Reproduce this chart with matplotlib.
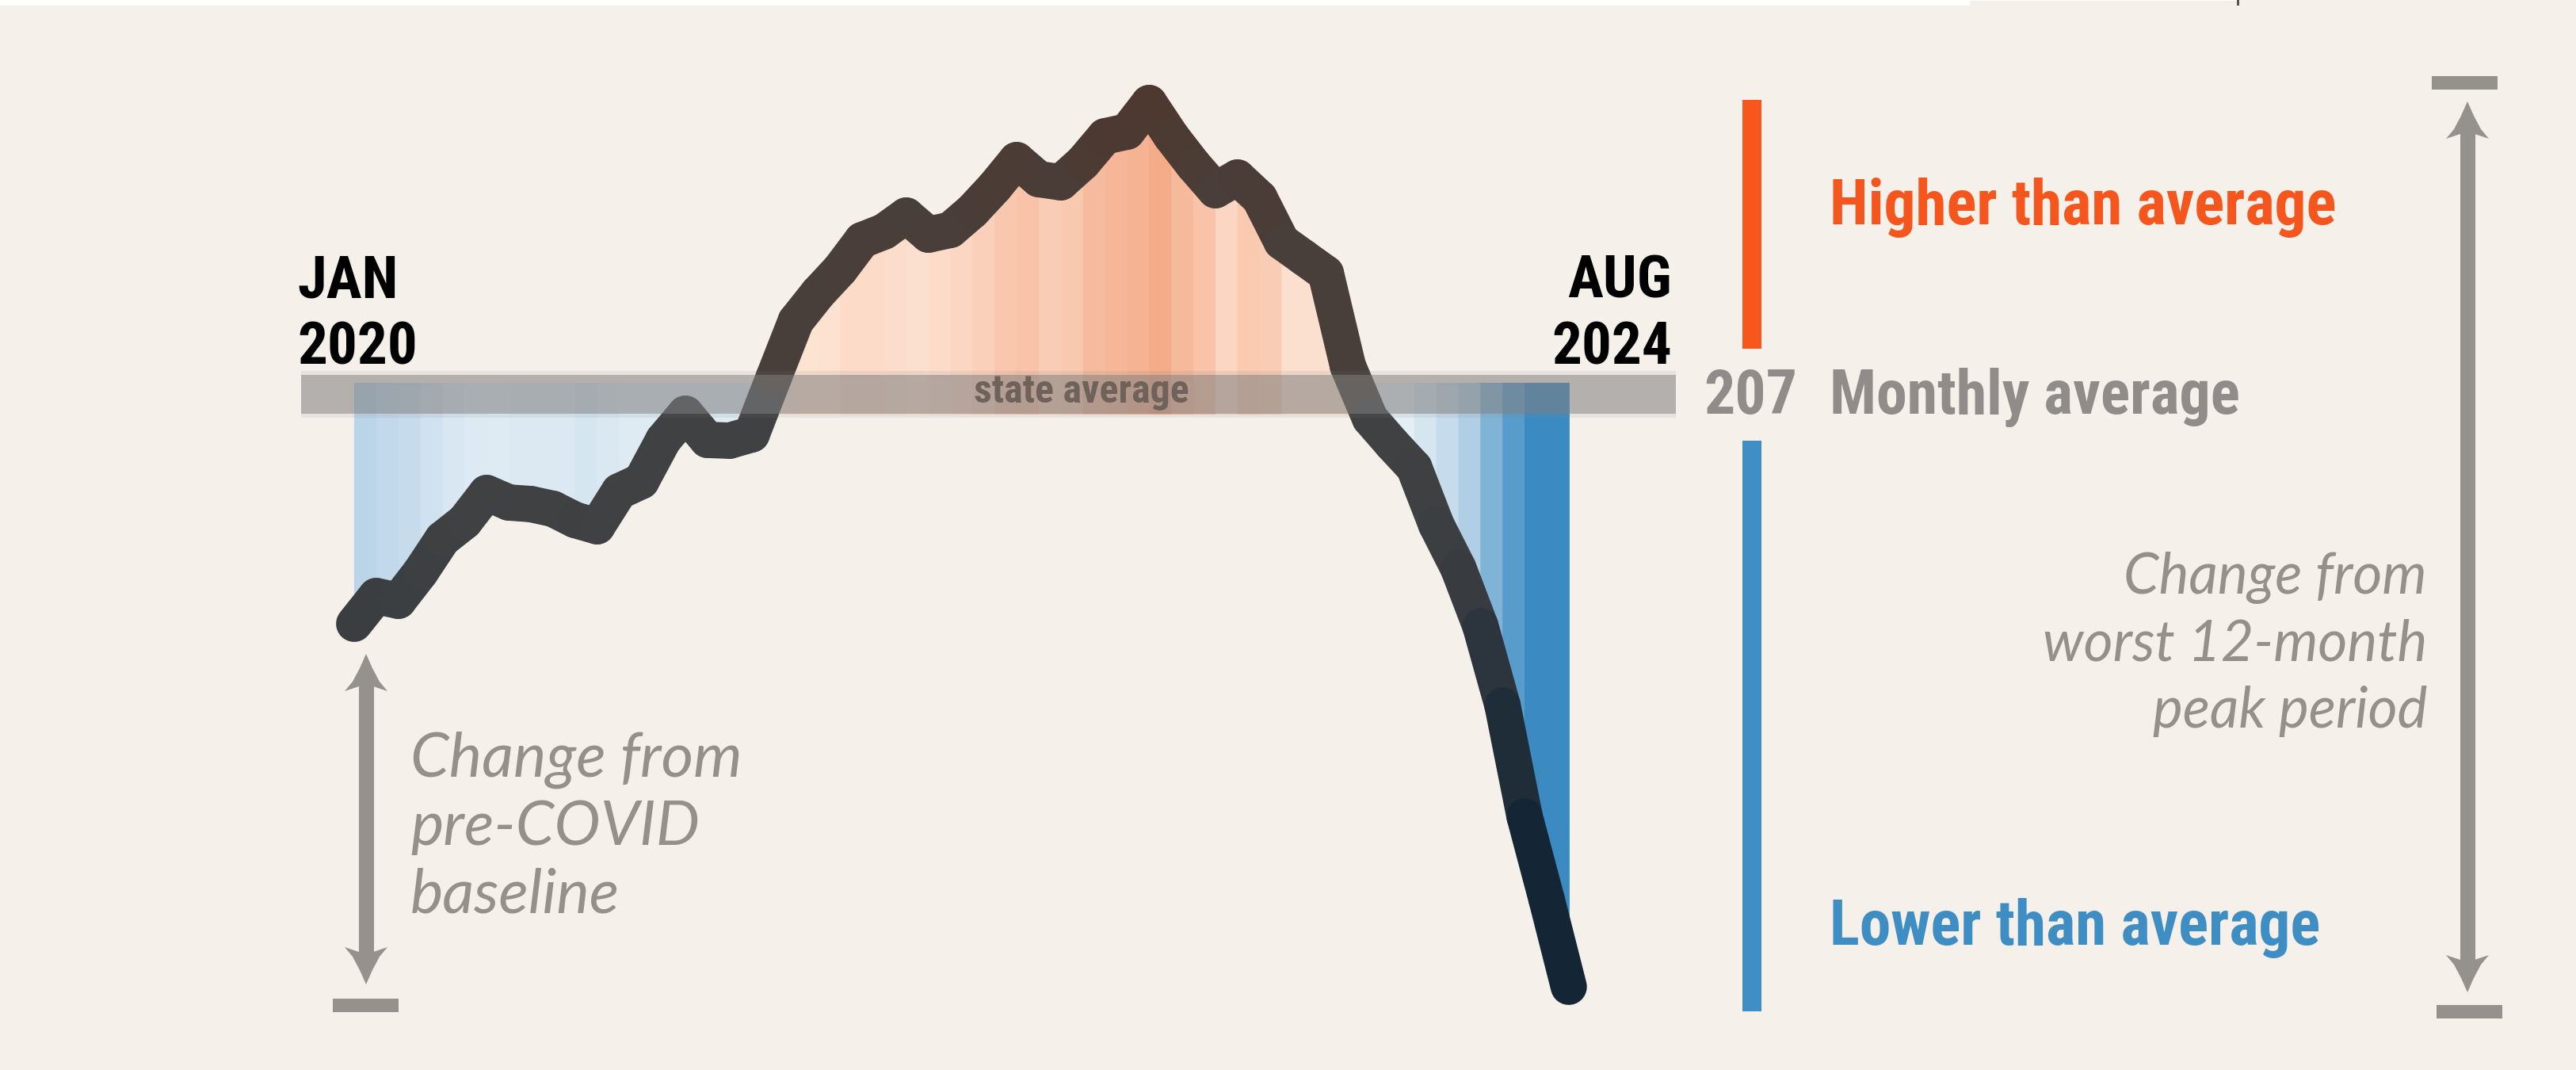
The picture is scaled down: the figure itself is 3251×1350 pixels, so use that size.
import numpy as np
import matplotlib
matplotlib.use("Agg")
import matplotlib.pyplot as plt
from matplotlib import font_manager
from matplotlib.collections import LineCollection
from matplotlib.patches import Rectangle, Polygon
from matplotlib.lines import Line2D

# Monthly values, Jan 2020 .. Aug 2024
values = [178.0, 181.5, 180.9, 184.5, 188.7, 190.9, 194.5, 193.3, 193.1, 192.5,
          191.1, 190.3, 194.7, 196.0, 201.2, 204.5, 201.2, 201.1, 201.9, 209.1,
          216.2, 219.7, 222.7, 226.4, 227.5, 229.5, 227.1, 227.7, 230.1, 233.1,
          236.5, 234.1, 233.7, 236.2, 239.5, 240.1, 243.7, 239.5, 235.9, 232.7,
          234.3, 231.7, 226.2, 224.2, 222.2, 210.5, 203.9, 200.7, 197.7, 190.5,
          185.0, 177.7, 167.7, 153.7, 143.2, 132.2]
# stripe strength for each month (0 = faint, 1 = strongest)
shade = [0.25, 0.21, 0.18, 0.12, 0.07, 0.04, 0.03, 0.05, 0.05, 0.05,
         0.08, 0.06, 0.03, 0.03, 0.03, 0.03, 0.03, 0.03, 0.03, 0.00,
         0.02, 0.03, 0.12, 0.12, 0.10, 0.06, 0.12, 0.19, 0.29, 0.43,
         0.49, 0.34, 0.41, 0.60, 0.68, 0.72, 0.84, 0.63, 0.49, 0.20,
         0.40, 0.34, 0.06, 0.06, 0.05, 0.00, 0.00, 0.00, 0.08, 0.18,
         0.31, 0.59, 0.83, 1.00, 1.00, 1.00]
state_avg = 207
start_label = ["JAN", "2020"]
end_label = ["AUG", "2024"]
legend_labels = ["Higher than average", "Monthly average", "Lower than average"]
left_note = ["Change from", "pre-COVID", "baseline"]
right_note = ["Change from", "worst 12-month", "peak period"]

BG = "#f6f0eb"
BLUE_LIGHT, BLUE_DARK = (228, 238, 245), (59, 139, 194)
OR_LIGHT, OR_DARK = (253, 228, 212), (242, 160, 122)
LINE_BASE, BROWN, NAVY = (68, 68, 68), (78, 56, 46), (20, 38, 54)
GREY_TXT = "#8f8c89"
NOTE = "#959089"
ARROW = "#95918c"


def mix(a, b, t):
    t = max(0.0, min(1.0, t))
    return tuple((a[j] + (b[j] - a[j]) * t) / 255 for j in range(3))


W, H = 3251, 1350
fig = plt.figure(figsize=(W / 100, H / 100), dpi=100, facecolor=BG)


def fx(px):
    return px / W


def fy(py):
    return 1 - py / H


# fonts: pick whatever is installed
installed = {f.name for f in font_manager.fontManager.ttflist}


def pick(names):
    for n in names:
        if n in installed:
            return n
    return "DejaVu Sans"


bold_family = pick(["Liberation Sans Narrow", "Roboto Condensed", "DejaVu Sans"])
bold_kw = dict(family=bold_family, weight="bold")
if bold_family == "DejaVu Sans":
    bold_kw["stretch"] = "condensed"
ital_family = pick(["Lato", "Open Sans", "DejaVu Sans"])
ital_kw = dict(family=ital_family, style="italic")

renderer = fig.canvas.get_renderer()


def fit(texts, width, cap):
    w = max(t.get_window_extent(renderer).width for t in texts)
    size = min(texts[0].get_fontsize() * width / w, cap)
    for t in texts:
        t.set_fontsize(size)


# ---- main chart ----
ax = fig.add_axes([fx(380), fy(1300), fx(2115) - fx(380), fy(60) - fy(1300)])
ax.set_xlim(-2.404, 59.85)
ax.set_ylim(126.7, 250.7)
ax.axis("off")

x = np.arange(len(values))
v = np.array(values)

blue_top = state_avg + 1.4
orange_base = state_avg - 2.5
for i in range(len(v) - 1):
    xs = x[i:i + 2]
    ys = v[i:i + 2]
    cb = mix(BLUE_LIGHT, BLUE_DARK, shade[i])
    co = mix(OR_LIGHT, OR_DARK, shade[i])
    ax.fill_between(xs, ys, blue_top, where=ys < blue_top, interpolate=True,
                    facecolor=cb, edgecolor=cb, lw=0.8, zorder=1)
    ax.fill_between(xs, ys, orange_base, where=ys > orange_base, interpolate=True,
                    facecolor=co, edgecolor=co, lw=0.8, zorder=1)

pts = np.column_stack([x, v])
segs = np.stack([pts[:-1], pts[1:]], axis=1)
line_colors = []
for i in range(len(v) - 1):
    mid = (v[i] + v[i + 1]) / 2
    if mid > state_avg:
        line_colors.append(mix(LINE_BASE, BROWN, 0.4 + 0.6 * shade[i]))
    else:
        line_colors.append(mix(LINE_BASE, NAVY, 0.1 + 0.9 * shade[i] ** 1.5))
lc = LineCollection(segs, colors=line_colors, linewidths=33,
                    capstyle="round", joinstyle="round", zorder=2)
ax.add_collection(lc)

# state average band
ax.axhspan(state_avg - 3.0, state_avg + 2.9, color="#808080", alpha=0.12, lw=0, zorder=3)
ax.axhspan(state_avg - 2.5, state_avg + 2.4, color="#808080", alpha=0.5, lw=0, zorder=3)
t_band = ax.text(0.5677, state_avg - 1.1, "state average", transform=ax.get_yaxis_transform(),
                 ha="center", va="baseline", color="#6e625b", fontsize=30, zorder=4, **bold_kw)
fit([t_band], 333, 36)

# ---- start / end labels ----
lab = []
lab.append(fig.text(fx(375), fy(375), start_label[0], ha="left", va="baseline", color="black", fontsize=50, **bold_kw))
lab.append(fig.text(fx(375), fy(459), start_label[1], ha="left", va="baseline", color="black", fontsize=50, **bold_kw))
lab.append(fig.text(fx(2110), fy(375), end_label[0], ha="right", va="baseline", color="black", fontsize=50, **bold_kw))
lab.append(fig.text(fx(2110), fy(459), end_label[1], ha="right", va="baseline", color="black", fontsize=50, **bold_kw))
fit([lab[1]], 170, 54)
for t in lab:
    t.set_fontsize(lab[1].get_fontsize())

# ---- legend on the right ----
def rect(x0, y0, x1, y1, color):
    fig.add_artist(Rectangle((fx(x0), fy(y1)), fx(x1) - fx(x0), fy(y0) - fy(y1),
                             transform=fig.transFigure, facecolor=color, lw=0))


rect(2199, 126, 2223, 440, "#f7561c")
rect(2199, 556, 2223, 1276, "#3f8fc4")

t_hi = fig.text(fx(2309), fy(283), legend_labels[0], ha="left", va="baseline", color="#f4561e", fontsize=50, **bold_kw)
fit([t_hi], 659, 57)
t_avgnum = fig.text(fx(2150), fy(522), str(state_avg), ha="left", va="baseline", color=GREY_TXT, fontsize=50, **bold_kw)
fit([t_avgnum], 124, 56)
t_avg = fig.text(fx(2309), fy(522), legend_labels[1], ha="left", va="baseline", color=GREY_TXT, fontsize=50, **bold_kw)
fit([t_avg], 547, 56)
t_lo = fig.text(fx(2309), fy(1192), legend_labels[2], ha="left", va="baseline", color="#3e8ec4", fontsize=50, **bold_kw)
fit([t_lo], 640, 57)

# ---- arrows and notes ----
def arrow(xc, top, bot):
    fig.add_artist(Line2D([fx(xc), fx(xc)], [fy(top + 34), fy(bot - 34)], transform=fig.transFigure,
                          color=ARROW, lw=13.7, solid_capstyle="butt"))
    shape = [(0, 0), (-8, 18), (-17, 35), (-27, 47), (0, 38), (27, 47), (17, 35), (8, 18)]
    for tip, d in ((top, 1), (bot, -1)):
        p = [(fx(xc + dx), fy(tip + d * dy)) for dx, dy in shape]
        fig.add_artist(Polygon(p, closed=True, transform=fig.transFigure, facecolor=ARROW, lw=0))


arrow(462, 825, 1242)
rect(420, 1260, 503, 1277, ARROW)
arrow(3114, 128, 1252)
rect(3069, 96, 3152, 113, ARROW)
rect(3075, 1268, 3158, 1285, ARROW)

left_txt = [fig.text(fx(518), fy(yb), s, ha="left", va="baseline", color=NOTE, fontsize=50, **ital_kw)
            for s, yb in zip(left_note, [980, 1066, 1152])]
fit(left_txt, 419, 57)
right_txt = [fig.text(fx(3063), fy(yb), s, ha="right", va="baseline", color=NOTE, fontsize=50, **ital_kw)
             for s, yb in zip(right_note, [749, 833, 918])]
fit(right_txt, 486, 57)

# thin white strip along the top edge
rect(0, 0, 2486, 7, "white")
rect(2486, 0, 2823, 1, "white")
rect(2823, 0, 2826, 7, "#555555")

fig.savefig("out.png", dpi=100, facecolor=BG)
